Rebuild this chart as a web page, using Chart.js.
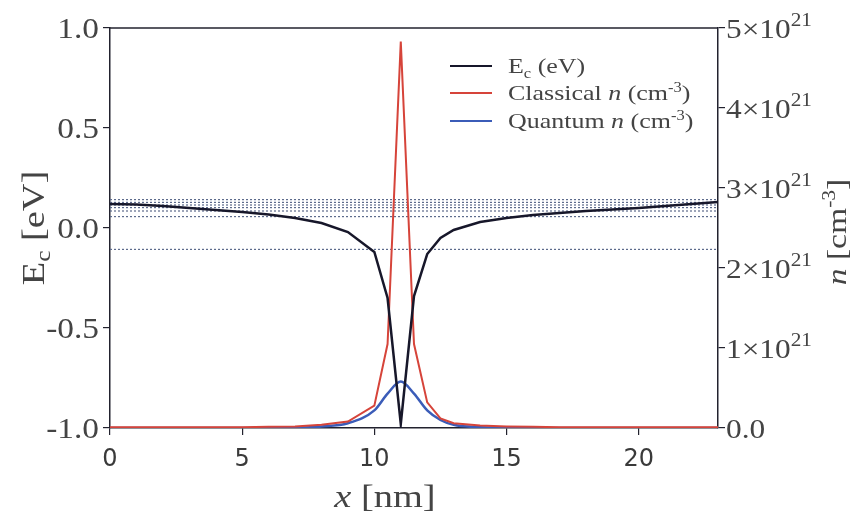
<!DOCTYPE html>
<html>
<head>
<meta charset="utf-8">
<script src="https://cdn.jsdelivr.net/npm/chart.js@4.4.0/dist/chart.umd.min.js"></script>
<style>
  html, body { margin: 0; padding: 0; background: #fff; }
</style>
</head>
<body>
<canvas id="band-chart" width="855" height="522"></canvas>
<script>
// position along the device, nm
const xNm = [0, 1, 2, 3, 4, 5, 6, 7, 8, 9, 10, 10.5, 11, 11.5, 12, 12.5, 13, 14, 15, 16, 17, 18, 19, 20, 21, 22, 23];
// conduction band edge, eV (left axis)
const ecEv = [0.12, 0.117, 0.11, 0.10, 0.09, 0.08, 0.068, 0.05, 0.025, -0.02, -0.12, -0.35, -0.98, -0.34, -0.13, -0.05, -0.01, 0.03, 0.05, 0.065, 0.075, 0.085, 0.092, 0.10, 0.11, 0.12, 0.13];
// electron density, units of 1e21 cm^-3 (right axis)
const nClassical = [0.01, 0.01, 0.01, 0.01, 0.01, 0.01, 0.015, 0.02, 0.04, 0.08, 0.28, 1.05, 4.83, 1.05, 0.32, 0.12, 0.06, 0.03, 0.02, 0.015, 0.01, 0.01, 0.01, 0.01, 0.01, 0.01, 0.01];
const nQuantum = [0, 0, 0, 0, 0, 0, 0.002, 0.005, 0.02, 0.06, 0.22, 0.43, 0.58, 0.43, 0.22, 0.1, 0.04, 0.01, 0.005, 0, 0, 0, 0, 0, 0, 0, 0];
// subband energies, eV (dotted lines)
const levelEv = [0.142, 0.128, 0.115, 0.102, 0.085, 0.057, -0.107];
const xRange = [0, 23];
const xTickStep = 5;
const ecTicks = [-1.0, -0.5, 0.0, 0.5, 1.0];
const nTicks = [0, 1, 2, 3, 4, 5];

const frameColor = "#22222e";
const textColor = "#444";
const serif = (px, style) => (style || "") + " " + px + "px 'Liberation Serif', serif";

const pts = (ys) => xNm.map((x, i) => ({ x: x, y: ys[i] }));

let datasets = [
  { label: "Ec", data: pts(ecEv), yAxisID: "y", borderColor: "#17172a", borderWidth: 2.5 },
  { label: "Classical", data: pts(nClassical), yAxisID: "y1", borderColor: "#d6443a", borderWidth: 2 },
  { label: "Quantum", data: pts(nQuantum), yAxisID: "y1", borderColor: "#3b5cb8", borderWidth: 2.5, cubicInterpolationMode: "monotone" },
];
levelEv.forEach((e) => {
  datasets.push({
    data: xRange.map((x) => ({ x: x, y: e })),
    yAxisID: "y",
    borderColor: "#5d6b8c",
    borderWidth: 1.2,
    borderDash: [2, 2],
  });
});

function drawRuns(ctx, parts, x, y, align, sx) {
  let w = 0;
  parts.forEach((p) => {
    ctx.font = p.font;
    w += ctx.measureText(p.text).width;
  });
  ctx.save();
  ctx.translate(x, y);
  ctx.scale(sx, 1);
  ctx.textAlign = "left";
  ctx.textBaseline = "alphabetic";
  let cx = align === "center" ? -w / 2 : align === "right" ? -w : 0;
  parts.forEach((p) => {
    ctx.font = p.font;
    ctx.fillText(p.text, cx, p.dy || 0);
    cx += ctx.measureText(p.text).width;
  });
  ctx.restore();
}

function drawRotated(ctx, parts, x, y, sx) {
  ctx.save();
  ctx.translate(x, y);
  ctx.rotate(-Math.PI / 2);
  drawRuns(ctx, parts, 0, 0, "center", sx);
  ctx.restore();
}

const textPlugin = {
  id: "textPlugin",
  afterDraw(chart) {
    const ctx = chart.ctx;
    const a = chart.chartArea;
    const yS = chart.scales.y;
    const y1S = chart.scales.y1;
    ctx.save();

    // top frame line
    ctx.strokeStyle = frameColor;
    ctx.lineWidth = 1.5;
    ctx.beginPath();
    ctx.moveTo(a.left, a.top);
    ctx.lineTo(a.right, a.top);
    ctx.stroke();

    ctx.fillStyle = textColor;

    // left tick labels
    ecTicks.forEach((v) => {
      drawRuns(ctx, [{ text: v.toFixed(1), font: serif(29) }], a.left - 11, yS.getPixelForValue(v) + 10, "right", 1.15);
    });

    // right tick labels
    nTicks.forEach((v) => {
      const py = y1S.getPixelForValue(v) + 10;
      const parts = v === 0
        ? [{ text: "0.0", font: serif(28) }]
        : [{ text: v + "\u00d710", font: serif(28) }, { text: "21", font: serif(19), dy: -12 }];
      drawRuns(ctx, parts, a.right + 8, py, "left", 1.12);
    });

    // axis titles
    drawRotated(ctx, [
      { text: "E", font: serif(32) },
      { text: "c", font: serif(21), dy: 6 },
      { text: " [eV]", font: serif(32) },
    ], 44, 228, 1.2);
    drawRotated(ctx, [
      { text: "n", font: serif(28, "italic") },
      { text: " [cm", font: serif(28) },
      { text: "-3", font: serif(18), dy: -11 },
      { text: "]", font: serif(28) },
    ], 846, 232, 1.2);
    drawRuns(ctx, [
      { text: "x", font: serif(32, "italic") },
      { text: " [nm]", font: serif(32) },
    ], 385, 507, "center", 1.2);

    // legend
    const rows = [
      { color: "#17172a", y: 66, parts: [
        { text: "E", font: serif(22) }, { text: "c", font: serif(14), dy: 5 }, { text: " (eV)", font: serif(22) }] },
      { color: "#d6443a", y: 93, parts: [
        { text: "Classical ", font: serif(22) }, { text: "n", font: serif(22, "italic") },
        { text: " (cm", font: serif(22) }, { text: "-3", font: serif(14), dy: -8 }, { text: ")", font: serif(22) }] },
      { color: "#3b5cb8", y: 121, parts: [
        { text: "Quantum ", font: serif(22) }, { text: "n", font: serif(22, "italic") },
        { text: " (cm", font: serif(22) }, { text: "-3", font: serif(14), dy: -8 }, { text: ")", font: serif(22) }] },
    ];
    rows.forEach((r) => {
      ctx.strokeStyle = r.color;
      ctx.lineWidth = 2;
      ctx.beginPath();
      ctx.moveTo(450, r.y);
      ctx.lineTo(492, r.y);
      ctx.stroke();
      ctx.fillStyle = textColor;
      drawRuns(ctx, r.parts, 508, r.y + 7, "left", 1.18);
    });

    ctx.restore();
  },
};

const tickGrid = {
  display: true,
  drawOnChartArea: false,
  drawTicks: true,
  tickLength: 7,
  color: frameColor,
  lineWidth: 1.2,
};

const bandChart = new Chart(document.getElementById("band-chart"), {
  type: "line",
  data: { datasets: datasets },
  options: {
    responsive: false,
    animation: false,
    devicePixelRatio: 1,
    layout: { padding: { top: 28, left: 0, right: 0, bottom: 0 } },
    elements: { point: { radius: 0 }, line: { tension: 0 } },
    plugins: { legend: { display: false }, tooltip: { enabled: false } },
    scales: {
      x: {
        type: "linear",
        min: xRange[0],
        max: xRange[1],
        ticks: { stepSize: xTickStep, color: "#3a3a3a", font: { family: "'DejaVu Sans'", size: 24 }, padding: 10, maxRotation: 0 },
        grid: tickGrid,
        border: { display: true, color: frameColor, width: 1.5 },
        afterBuildTicks: (scale) => {
          scale.ticks = scale.ticks.filter((t) => t.value % xTickStep === 0);
        },
        afterFit: (scale) => { scale.height = 94; },
      },
      y: {
        position: "left",
        min: -1,
        max: 1,
        ticks: { stepSize: 0.5, display: false },
        grid: tickGrid,
        border: { display: true, color: frameColor, width: 1.5 },
        afterFit: (scale) => { scale.width = 110; },
      },
      y1: {
        position: "right",
        min: 0,
        max: 5,
        ticks: { stepSize: 1, display: false },
        grid: tickGrid,
        border: { display: true, color: frameColor, width: 1.5 },
        afterFit: (scale) => { scale.width = 137; },
      },
    },
  },
  plugins: [textPlugin],
});
</script>
</body>
</html>
